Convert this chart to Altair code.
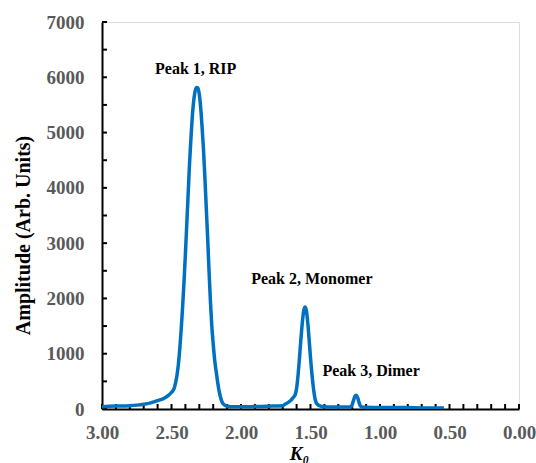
import altair as alt
import pandas as pd

# Spectrum trace (K0, amplitude)
k0 = [3.00, 2.95, 2.90, 2.85, 2.80, 2.75, 2.70, 2.65, 2.60, 2.55, 2.52,
      2.50, 2.49, 2.48, 2.47, 2.46, 2.45, 2.44, 2.43, 2.42, 2.41, 2.40, 2.39, 2.38,
      2.37, 2.36, 2.35, 2.34, 2.33, 2.32, 2.31, 2.30, 2.29, 2.28, 2.27, 2.26, 2.25,
      2.24, 2.23, 2.22, 2.21, 2.20, 2.19, 2.18, 2.17, 2.16, 2.15, 2.14, 2.13, 2.12,
      2.11, 2.10, 2.05, 2.00, 1.95, 1.90, 1.85, 1.80, 1.75, 1.70, 1.68, 1.66, 1.64,
      1.63, 1.62, 1.61, 1.60, 1.59, 1.58, 1.57, 1.56, 1.55, 1.54, 1.53, 1.52, 1.51,
      1.50, 1.49, 1.48, 1.47, 1.46, 1.45, 1.44, 1.43, 1.42, 1.40, 1.35, 1.30, 1.25,
      1.21, 1.20, 1.19, 1.18, 1.17, 1.16, 1.15, 1.14, 1.13, 1.10, 1.00, 0.90, 0.80,
      0.70, 0.60, 0.54]
amp = [40, 50, 55, 55, 60, 70, 85, 110, 150, 200, 250,
       300, 330, 380, 480, 620, 820, 1100, 1450, 1850, 2300, 2800, 3350, 3900,
       4450, 4900, 5300, 5580, 5750, 5815, 5810, 5690, 5450, 5100, 4700, 4200, 3650,
       3100, 2500, 1950, 1500, 1180, 900, 700, 520, 360, 240, 150, 100, 75,
       60, 50, 40, 40, 40, 45, 45, 50, 55, 60, 90, 120, 160,
       190, 220, 260, 375, 600, 900, 1230, 1530, 1760, 1846, 1780, 1570, 1260,
       930, 640, 400, 220, 120, 85, 65, 55, 45, 40, 35, 35, 35,
       40, 80, 160, 230, 250, 200, 110, 50, 35, 30, 25, 25, 25,
       20, 20, 20]

# Peak annotations
peak_labels = ["Peak 1, RIP", "Peak 2, Monomer", "Peak 3, Dimer"]
peak_label_k0 = [2.326, 1.49, 1.064]
peak_label_amp = [6150, 2345, 690]

# Axis ticks
x_major = [3.0, 2.5, 2.0, 1.5, 1.0, 0.5, 0.0]
x_minor = [round(i * 0.1, 1) for i in range(31)]
y_major = [0, 1000, 2000, 3000, 4000, 5000, 6000, 7000]
y_minor = list(range(0, 7001, 500))

W, H = 417, 387

df = pd.DataFrame({"k0": k0, "amp": amp})
lab = pd.DataFrame({"label": peak_labels, "k0": peak_label_k0, "amp": peak_label_amp})
xt = pd.DataFrame({"k0": x_minor})
yt = pd.DataFrame({"amp": y_minor})

xscale = alt.Scale(domain=[0, 3], reverse=True, nice=False, zero=False)
yscale = alt.Scale(domain=[0, 7000], nice=False)

FONT = "Liberation Serif"

xaxis = alt.Axis(
    values=x_major, format=".2f", ticks=False, tickSize=0, grid=False,
    domainColor="black", domainWidth=2,
    labelFont=FONT, labelFontSize=19, labelFontWeight="bold", labelColor="#595959",
    labelPadding=14, labelFlush=False,
    title="K₀", titleFont=FONT, titleFontSize=19, titleFontWeight="bold",
    titleFontStyle="italic", titleColor="black",
    titleX=197, titleY=50, titleAlign="center", titleBaseline="alphabetic",
)
yaxis = alt.Axis(
    values=y_major, format="d", ticks=False, tickSize=0, grid=False,
    domainColor="black", domainWidth=2,
    labelFont=FONT, labelFontSize=19, labelFontWeight="bold", labelColor="#595959",
    labelPadding=18, labelFlush=False,
    title="Amplitude  (Arb. Units)", titleFont=FONT, titleFontSize=20,
    titleFontWeight="bold", titleColor="black",
    titleAngle=270, titleX=-73, titleY=213, titleAlign="center",
    titleBaseline="alphabetic",
)

X = alt.X("k0:Q", scale=xscale, axis=xaxis)
Y = alt.Y("amp:Q", scale=yscale, axis=yaxis)

xticks = alt.Chart(xt).mark_rule(color="black", strokeWidth=2).encode(
    x=X,
    y=alt.value(H - 5),
    y2=alt.value(H),
)

yticks = alt.Chart(yt).mark_rule(color="black", strokeWidth=2).encode(
    y=Y,
    x=alt.value(0),
    x2=alt.value(5),
)

line = alt.Chart(df).mark_line(
    color="#0070C0", strokeWidth=3.5, interpolate="monotone", clip=True
).encode(
    x=X,
    y=Y,
    order=alt.Order("k0:Q", sort="descending"),
)

text = alt.Chart(lab).mark_text(
    font=FONT, fontSize=16, fontWeight="bold", color="black",
    align="center", baseline="middle",
).encode(
    x=X,
    y=Y,
    text="label:N",
)

chart = alt.layer(xticks, yticks, line, text).properties(
    width=W, height=H,
    autosize=alt.AutoSizeParams(type="none"),
    padding={"left": 102, "top": 22, "right": 17, "bottom": 54},
).configure_view(stroke=None).configure(background="white")

chart.save("out.html", embed_options={"renderer": "svg", "actions": False})
